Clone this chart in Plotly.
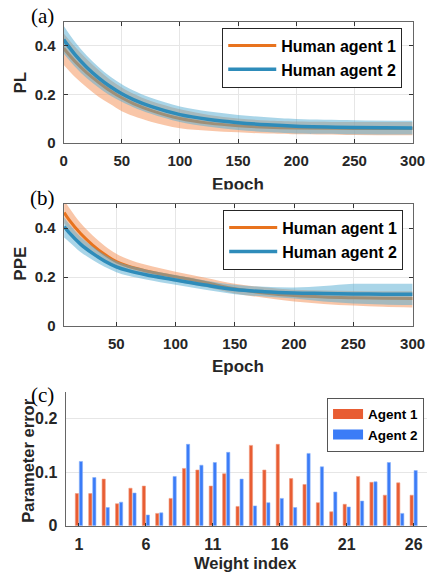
import plotly.graph_objects as go

# ---------------- data ----------------
# Panel (a): PL vs epoch
epoch_a = [0, 10, 20, 30, 40, 50, 60, 75, 100, 125, 150, 175, 200, 250, 300]
pl_h1_mean = [0.390, 0.335, 0.289, 0.250, 0.215, 0.186, 0.162, 0.134, 0.100, 0.081, 0.070, 0.064, 0.061, 0.059, 0.059]
pl_h1_up = [0.452, 0.395, 0.345, 0.300, 0.260, 0.228, 0.202, 0.172, 0.138, 0.115, 0.100, 0.092, 0.088, 0.086, 0.086]
pl_h1_lo = [0.322, 0.270, 0.228, 0.190, 0.160, 0.130, 0.110, 0.087, 0.060, 0.050, 0.043, 0.038, 0.035, 0.032, 0.031]
pl_h2_mean = [0.426, 0.363, 0.311, 0.268, 0.232, 0.202, 0.178, 0.150, 0.116, 0.096, 0.083, 0.074, 0.068, 0.063, 0.061]
pl_h2_up = [0.483, 0.415, 0.359, 0.313, 0.274, 0.242, 0.216, 0.186, 0.150, 0.129, 0.115, 0.105, 0.098, 0.093, 0.091]
pl_h2_lo = [0.369, 0.313, 0.266, 0.228, 0.195, 0.169, 0.147, 0.120, 0.086, 0.066, 0.053, 0.044, 0.038, 0.035, 0.034]

# Panel (b): PPE vs epoch
epoch_b = [6, 10, 20, 30, 40, 50, 60, 75, 100, 125, 150, 175, 200, 225, 250, 275, 300]
ppe_h1_mean = [0.464, 0.435, 0.377, 0.331, 0.293, 0.263, 0.244, 0.225, 0.201, 0.178, 0.152, 0.135, 0.124, 0.118, 0.115, 0.113, 0.112]
ppe_h1_up = [0.515, 0.485, 0.420, 0.370, 0.328, 0.295, 0.273, 0.250, 0.222, 0.197, 0.172, 0.158, 0.148, 0.145, 0.143, 0.142, 0.142]
ppe_h1_lo = [0.420, 0.395, 0.342, 0.300, 0.266, 0.240, 0.222, 0.204, 0.182, 0.159, 0.133, 0.115, 0.100, 0.090, 0.083, 0.078, 0.075]
ppe_h2_mean = [0.407, 0.383, 0.334, 0.297, 0.266, 0.242, 0.226, 0.209, 0.188, 0.167, 0.149, 0.140, 0.135, 0.133, 0.131, 0.130, 0.130]
ppe_h2_up = [0.445, 0.418, 0.364, 0.325, 0.292, 0.266, 0.249, 0.231, 0.208, 0.186, 0.168, 0.160, 0.157, 0.163, 0.172, 0.172, 0.172]
ppe_h2_lo = [0.362, 0.345, 0.302, 0.270, 0.242, 0.220, 0.205, 0.190, 0.168, 0.148, 0.130, 0.120, 0.112, 0.100, 0.092, 0.088, 0.085]

# Panel (c): parameter error per weight index
weight_idx = list(range(1, 27))
err_agent1 = [0.060, 0.060, 0.087, 0.041, 0.070, 0.074, 0.023, 0.051, 0.107, 0.104,
              0.074, 0.097, 0.036, 0.150, 0.104, 0.152, 0.088, 0.077, 0.043, 0.026,
              0.040, 0.092, 0.081, 0.057, 0.080, 0.057]
err_agent2 = [0.120, 0.090, 0.034, 0.044, 0.061, 0.020, 0.024, 0.092, 0.152, 0.113,
              0.118, 0.137, 0.087, 0.037, 0.043, 0.051, 0.034, 0.135, 0.110, 0.063,
              0.035, 0.046, 0.082, 0.118, 0.023, 0.103]

legend_lines = ["Human agent 1", "Human agent 2"]
legend_bars = ["Agent 1", "Agent 2"]
xticks_a = [0, 50, 100, 150, 200, 250, 300]
xticks_b = [50, 100, 150, 200, 250, 300]
yticks_ab = [0, 0.2, 0.4]
yticks_c = [0, 0.1, 0.2]
xticks_c = [1, 6, 11, 16, 21, 26]

# ---------------- styles ----------------
W, H = 441, 580
ORANGE = "#E8731E"
BLUE = "#2E8CBA"
ORANGE_BAND = "rgba(243,141,81,0.5)"
BLUE_BAND = "rgba(83,171,209,0.5)"
BAR_OR = "#E85D33"
BAR_BL = "#3B7CF7"
SANS = "Liberation Sans"
SERIF = "Liberation Serif"
TXT = "#262626"


def px(x):
    return x / W


def py(y):
    return 1 - y / H


fig = go.Figure()


def add_band(x, up, lo, color, xa, ya):
    fig.add_trace(go.Scatter(x=x, y=up, mode="lines", line=dict(width=0, shape="spline"),
                             showlegend=False, hoverinfo="skip", xaxis=xa, yaxis=ya))
    fig.add_trace(go.Scatter(x=x, y=lo, mode="lines", line=dict(width=0, shape="spline"),
                             fill="tonexty", fillcolor=color, showlegend=False,
                             hoverinfo="skip", xaxis=xa, yaxis=ya))


# Panel (a)
add_band(epoch_a, pl_h1_up, pl_h1_lo, ORANGE_BAND, "x", "y")
fig.add_trace(go.Scatter(x=epoch_a, y=pl_h1_mean, mode="lines", name=legend_lines[0],
                         line=dict(color=ORANGE, width=3, shape="spline"), legend="legend",
                         xaxis="x", yaxis="y"))
add_band(epoch_a, pl_h2_up, pl_h2_lo, BLUE_BAND, "x", "y")
fig.add_trace(go.Scatter(x=epoch_a, y=pl_h2_mean, mode="lines", name=legend_lines[1],
                         line=dict(color=BLUE, width=3.5, shape="spline"), legend="legend",
                         xaxis="x", yaxis="y"))

# Panel (b)
add_band(epoch_b, ppe_h1_up, ppe_h1_lo, ORANGE_BAND, "x2", "y2")
fig.add_trace(go.Scatter(x=epoch_b, y=ppe_h1_mean, mode="lines", name=legend_lines[0],
                         line=dict(color=ORANGE, width=3, shape="spline"), legend="legend2",
                         xaxis="x2", yaxis="y2"))
add_band(epoch_b, ppe_h2_up, ppe_h2_lo, BLUE_BAND, "x2", "y2")
fig.add_trace(go.Scatter(x=epoch_b, y=ppe_h2_mean, mode="lines", name=legend_lines[1],
                         line=dict(color=BLUE, width=3.5, shape="spline"), legend="legend2",
                         xaxis="x2", yaxis="y2"))

# Panel (c)
fig.add_trace(go.Bar(x=weight_idx, y=err_agent1, width=0.24, offset=-0.27,
                     marker=dict(color=BAR_OR, line=dict(color="#F29A7E", width=0.6)),
                     showlegend=False, xaxis="x3", yaxis="y3"))
fig.add_trace(go.Bar(x=weight_idx, y=err_agent2, width=0.24, offset=0.03,
                     marker=dict(color=BAR_BL, line=dict(color="#8AB2FA", width=0.6)),
                     showlegend=False, xaxis="x3", yaxis="y3"))
# legend proxies (wide patches)
fig.add_trace(go.Scatter(x=[None], y=[None], mode="lines", name=legend_bars[0],
                         line=dict(color=BAR_OR, width=13), legend="legend3",
                         xaxis="x3", yaxis="y3"))
fig.add_trace(go.Scatter(x=[None], y=[None], mode="lines", name=legend_bars[1],
                         line=dict(color=BAR_BL, width=13), legend="legend3",
                         xaxis="x3", yaxis="y3"))

tickfont = dict(family=SANS, size=15, color=TXT, weight="bold")
common = dict(showline=True, linecolor="#666666", linewidth=1, ticks="inside", ticklen=4,
              tickcolor="#333333", gridcolor="#E6E6E6", gridwidth=1, zeroline=False,
              tickfont=tickfont)
legfont = dict(family=SANS, size=16, color="black", weight="bold")

fig.update_layout(
    width=W, height=H, margin=dict(l=0, r=0, t=0, b=0),
    paper_bgcolor="white", plot_bgcolor="white", barmode="overlay",
    xaxis=dict(domain=[px(62), px(425)], range=[0, 300], tickvals=xticks_a, mirror="ticks",
               anchor="y", ticklabelstandoff=4, **common),
    yaxis=dict(domain=[py(145), py(22)], range=[0, 0.5], tickvals=yticks_ab,
               ticktext=["0", "0.2", "0.4"], mirror="ticks", anchor="x",
               ticklabelstandoff=4, **common),
    xaxis2=dict(domain=[px(62), px(425)], range=[5.5, 300], tickvals=xticks_b, mirror="ticks",
                anchor="y2", ticklabelstandoff=4, **common),
    yaxis2=dict(domain=[py(331), py(207)], range=[0, 0.5], tickvals=yticks_ab,
                ticktext=["0", "0.2", "0.4"], mirror="ticks", anchor="x2",
                ticklabelstandoff=4, **common),
    xaxis3=dict(domain=[px(64), px(440)], range=[0, 27], tickvals=xticks_c, showgrid=False,
                anchor="y3", showline=True, linecolor="#666666", ticks="inside", ticklen=3,
                tickcolor="#333333", zeroline=False, ticklabelstandoff=4,
                tickfont=dict(family=SANS, size=16, color=TXT, weight="bold")),
    yaxis3=dict(domain=[py(534), py(398)], range=[0, 0.25], tickvals=yticks_c,
                ticktext=["0", "0.1", "0.2"], anchor="x3", showline=True, linecolor="#666666",
                ticks="", showgrid=True, gridcolor="#E6E6E6", zeroline=False,
                ticklabelstandoff=4,
                tickfont=dict(family=SANS, size=16, color=TXT, weight="bold")),
    legend=dict(x=px(227), y=py(28), xanchor="left", yanchor="top", bgcolor="white",
                bordercolor="#262626", borderwidth=1, itemwidth=48, tracegroupgap=0,
                traceorder="normal", font=legfont),
    legend2=dict(x=px(228), y=py(213), xanchor="left", yanchor="top", bgcolor="white",
                 bordercolor="#262626", borderwidth=1, itemwidth=48, tracegroupgap=0,
                 traceorder="normal", font=legfont),
    legend3=dict(x=px(336), y=py(404), xanchor="left", yanchor="top", bgcolor="white",
                 bordercolor="#555555", borderwidth=1, itemwidth=30, tracegroupgap=0,
                 traceorder="normal",
                 font=dict(family=SANS, size=13.5, color="black", weight="bold")),
)

title_font = dict(family=SANS, size=17, color=TXT, weight="bold")
ann = []
ann.append(dict(text="Epoch", x=px(243), y=py(187), xref="paper", yref="paper",
                showarrow=False, font=title_font, xanchor="center", yanchor="middle"))
# white strip that clips the bottom of the first "Epoch" label, as in the figure
ann.append(dict(text=" ", x=px(243), y=py(192), xref="paper", yref="paper", showarrow=False,
                width=80, height=10, bgcolor="white", xanchor="center", yanchor="top",
                font=dict(size=4)))
ann.append(dict(text="PL", x=px(17.5), y=py(84), xref="paper", yref="paper", showarrow=False,
                textangle=-90, font=title_font, xanchor="center", yanchor="middle"))
ann.append(dict(text="Epoch", x=px(243), y=py(372), xref="paper", yref="paper",
                showarrow=False, font=title_font, xanchor="center", yanchor="middle"))
ann.append(dict(text="PPE", x=px(17.5), y=py(268), xref="paper", yref="paper",
                showarrow=False, textangle=-90, font=title_font, xanchor="center",
                yanchor="middle"))
ann.append(dict(text="Weight index", x=px(251), y=py(572), xref="paper", yref="paper",
                showarrow=False, font=dict(family=SANS, size=16.5, color=TXT, weight="bold"),
                xanchor="center", yanchor="middle"))
ann.append(dict(text="Parameter error", x=px(25), y=py(468), xref="paper", yref="paper",
                showarrow=False, textangle=-90,
                font=dict(family=SANS, size=16.5, color=TXT, weight="bold"),
                xanchor="center", yanchor="middle"))
for lab, yy in [("(a)", 16), ("(b)", 201), ("(c)", 401)]:
    ann.append(dict(text=lab, x=px(40), y=py(yy), xref="paper", yref="paper",
                    showarrow=False, font=dict(family=SERIF, size=21, color="black"),
                    xanchor="center", yanchor="middle"))
fig.update_layout(annotations=ann)

# remove the browser's default 8px page margin so the figure fills the window exactly
fig.write_html("out.html", include_plotlyjs=True, full_html=True,
               config={"displayModeBar": False},
               post_script="document.body.style.margin='0';")
